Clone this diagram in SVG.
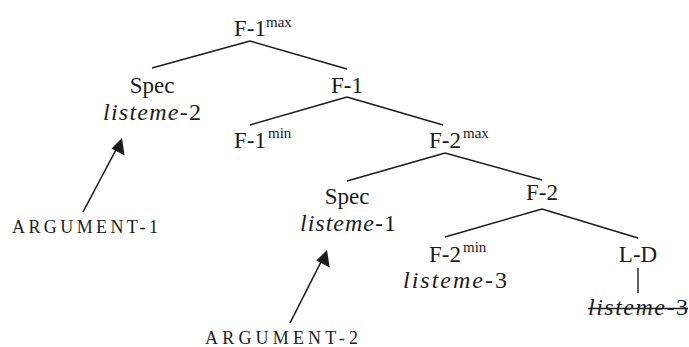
<svg xmlns="http://www.w3.org/2000/svg" width="689" height="347" viewBox="0 0 689 347">
<style>
text{font-family:"Liberation Serif","Times New Roman",serif;fill:#1c1c1c;font-size:23px}
.c{text-anchor:middle}
.it{font-style:italic;font-size:24px}
.sup{font-size:15px}
.sc{font-size:18px}
.edge{stroke:#1c1c1c;stroke-width:1.4;fill:none}
.arr{stroke:#1c1c1c;stroke-width:1.6;fill:none}
</style>
<rect width="689" height="347" fill="#fff"/>
<g id="connectors">
<line class="edge" x1="250" y1="41" x2="152" y2="68"/>
<line class="edge" x1="250" y1="41" x2="347" y2="69"/>
<line class="edge" x1="347" y1="97" x2="250" y2="125"/>
<line class="edge" x1="347" y1="97" x2="443" y2="125"/>
<line class="edge" x1="445" y1="153" x2="347" y2="181"/>
<line class="edge" x1="445" y1="153" x2="542" y2="180"/>
<line class="edge" x1="542" y1="209" x2="445" y2="237"/>
<line class="edge" x1="542" y1="209" x2="638" y2="238"/>
<line class="edge" x1="638" y1="268" x2="638" y2="293"/>
<line class="arr" x1="83" y1="212" x2="118" y2="146"/>
<path d="M122,138 L124.6,155.4 L111.5,148.5 Z" fill="#1c1c1c"/>
<line class="arr" x1="290" y1="323" x2="323" y2="258"/>
<path d="M327,250 L329.7,267.4 L316.3,260.6 Z" fill="#1c1c1c"/>
</g>
<g id="n-f1max"><text class="c" x="250" y="36">F-1</text><text class="sup" x="266" y="27">max</text></g>
<g id="n-spec2"><text class="c" x="152" y="93">Spec</text><text class="c it" x="152" y="120" textLength="98"><tspan>listeme</tspan><tspan font-style="normal">-2</tspan></text></g>
<g id="n-f1"><text class="c" x="347" y="93">F-1</text></g>
<g id="n-f1min"><text class="c" x="250" y="148">F-1</text><text class="sup" x="268" y="138">min</text></g>
<g id="n-f2max"><text class="c" x="445" y="148">F-2</text><text class="sup" x="463" y="138">max</text></g>
<g id="n-spec1"><text class="c" x="347" y="204">Spec</text><text class="c it" x="348" y="231" textLength="96"><tspan>listeme</tspan><tspan font-style="normal">-1</tspan></text></g>
<g id="n-f2"><text class="c" x="542" y="200">F-2</text></g>
<g id="n-f2min"><text class="c" x="445" y="262">F-2</text><text class="sup" x="463" y="252">min</text><text class="c it" x="455" y="288" textLength="104"><tspan>listeme</tspan><tspan font-style="normal">-3</tspan></text></g>
<g id="n-ld"><text class="c" x="638" y="262">L-D</text></g>
<g id="n-listeme3b"><text class="c it" x="638" y="315" textLength="100"><tspan>listeme</tspan><tspan font-style="normal">-3</tspan></text><line class="edge" x1="588" y1="308.5" x2="688" y2="308.5"/></g>
<g id="n-arg1"><text class="sc" x="12" y="233" textLength="146" lengthAdjust="spacing">ARGUMENT-1</text></g>
<g id="n-arg2"><text class="sc" x="205" y="344" textLength="153" lengthAdjust="spacing">ARGUMENT-2</text></g>
</svg>
